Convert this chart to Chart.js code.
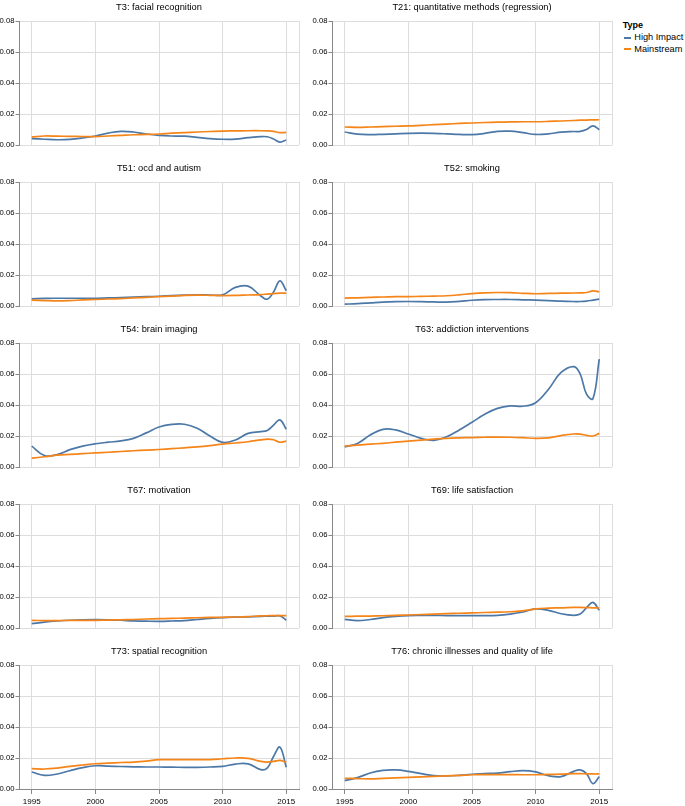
<!DOCTYPE html>
<html>
<head>
<meta charset="utf-8">
<script src="https://cdn.jsdelivr.net/npm/chart.js@4/dist/chart.umd.min.js"></script>
<style>
  html, body { margin: 0; padding: 0; background: #fff; }
  body { width: 685px; height: 806px; position: relative; overflow: hidden; font-family: 'Liberation Sans', Arial, sans-serif; }
  canvas { position: absolute; }
  .lg { position: absolute; font-size: 9.2px; line-height: 11px; color: #000; white-space: nowrap; }
  .sym { position: absolute; width: 7px; height: 2px; }
</style>
</head>
<body>
<div class="lg" style="left:622.7px;top:20.2px;font-weight:bold;font-size:9px;">Type</div>
<div class="sym" style="left:624px;top:37px;background:#4c78a8;"></div>
<div class="lg" style="left:634.3px;top:32.2px;">High Impact</div>
<div class="sym" style="left:624px;top:48px;background:#f58518;"></div>
<div class="lg" style="left:634.3px;top:43.5px;">Mainstream</div>
<script>
// ---- data ----
const years = [1995,1996,1997,1998,1999,2000,2001,2002,2003,2004,2005,2006,2007,2008,2009,2010,2011,2012,2013,2013.5,2014,2014.5,2015];
const xTicks = [1995,2000,2005,2010,2015];
const yTicks = [0,0.02,0.04,0.06,0.08];
const seriesNames = ['High Impact','Mainstream'];
const panelTitles = ['T3: facial recognition','T21: quantitative methods (regression)','T51: ocd and autism','T52: smoking','T54: brain imaging','T63: addiction interventions','T67: motivation','T69: life satisfaction','T73: spatial recognition','T76: chronic illnesses and quality of life'];

const t3High  = [.0041,.0037,.0034,.0036,.0045,.0058,.0077,.0088,.0084,.0071,.0062,.0058,.0057,.0049,.0041,.0037,.0038,.0047,.0054,.0053,.0039,.0019,.0032];
const t3Main  = [.0052,.0058,.0057,.0056,.0055,.0054,.0058,.0062,.0066,.0068,.0071,.0076,.0080,.0084,.0087,.0090,.0091,.0092,.0092,.0091,.0088,.0080,.0081];
const t21High = [.0084,.0070,.0067,.0069,.0072,.0075,.0076,.0075,.0072,.0068,.0067,.0075,.0088,.0089,.0080,.0068,.0072,.0083,.0087,.0088,.0100,.0124,.0099];
const t21Main = [.0116,.0114,.0116,.0119,.0121,.0123,.0127,.0131,.0135,.0139,.0142,.0145,.0147,.0149,.0150,.0150,.0152,.0155,.0158,.0160,.0161,.0162,.0163];
const t51High = [.0046,.0049,.0050,.0050,.0050,.0050,.0052,.0054,.0057,.0060,.0063,.0067,.0070,.0072,.0071,.0072,.0120,.0128,.0065,.0044,.0090,.0162,.0098];
const t51Main = [.0038,.0035,.0033,.0035,.0039,.0042,.0045,.0048,.0052,.0056,.0060,.0064,.0068,.0070,.0069,.0067,.0068,.0071,.0074,.0077,.0080,.0083,.0083];
const t52High = [.0012,.0015,.0020,.0025,.0028,.0029,.0028,.0026,.0025,.0030,.0037,.0041,.0042,.0042,.0040,.0038,.0035,.0031,.0029,.0029,.0032,.0038,.0044];
const t52Main = [.0051,.0053,.0056,.0058,.0060,.0061,.0062,.0064,.0066,.0072,.0080,.0085,.0087,.0086,.0082,.0079,.0081,.0083,.0084,.0085,.0087,.0097,.0092];
const t54High = [.0135,.0074,.0080,.0112,.0135,.0150,.0160,.0168,.0185,.0220,.0258,.0275,.0276,.0250,.0200,.0159,.0174,.0217,.0228,.0235,.0270,.0304,.0243];
const t54Main = [.0057,.0066,.0076,.0081,.0086,.0091,.0095,.0100,.0105,.0109,.0113,.0118,.0124,.0130,.0138,.0148,.0155,.0163,.0175,.0180,.0176,.0160,.0167];
const t63High = [.0130,.0152,.0206,.0243,.0239,.0213,.0185,.0172,.0195,.0239,.0289,.0340,.0378,.0394,.0392,.0415,.0500,.0610,.0648,.0600,.0470,.0440,.0696];
const t63Main = [.0135,.0141,.0147,.0153,.0160,.0167,.0174,.0180,.0185,.0188,.0190,.0192,.0193,.0192,.0189,.0185,.0188,.0203,.0213,.0212,.0204,.0200,.0217];
const t67High = [.0028,.0038,.0045,.0050,.0053,.0054,.0053,.0050,.0046,.0044,.0043,.0045,.0048,.0055,.0062,.0067,.0070,.0072,.0075,.0076,.0077,.0078,.0050];
const t67Main = [.0049,.0048,.0048,.0049,.0049,.0049,.0051,.0053,.0055,.0058,.0060,.0062,.0064,.0066,.0068,.0069,.0071,.0074,.0078,.0079,.0080,.0080,.0080];
const t69High = [.0056,.0047,.0055,.0067,.0075,.0080,.0081,.0081,.0080,.0080,.0080,.0080,.0082,.0090,.0103,.0123,.0114,.0092,.0082,.0090,.0131,.0165,.0114];
const t69Main = [.0075,.0076,.0077,.0079,.0081,.0084,.0087,.0090,.0093,.0095,.0097,.0100,.0102,.0105,.0110,.0123,.0128,.0130,.0133,.0133,.0132,.0130,.0129];
const t73High = [.0110,.0088,.0097,.0118,.0138,.0150,.0148,.0145,.0143,.0142,.0142,.0141,.0140,.0140,.0142,.0146,.0161,.0162,.0125,.0135,.0210,.0270,.0140];
const t73Main = [.0131,.0129,.0135,.0146,.0155,.0163,.0167,.0171,.0174,.0180,.0189,.0190,.0190,.0189,.0190,.0195,.0200,.0198,.0178,.0174,.0178,.0185,.0172];
const t76High = [.0054,.0073,.0103,.0120,.0123,.0114,.0099,.0086,.0084,.0088,.0095,.0099,.0103,.0112,.0118,.0110,.0086,.0080,.0114,.0123,.0099,.0035,.0080];
const t76Main = [.0069,.0067,.0065,.0068,.0072,.0075,.0078,.0081,.0085,.0088,.0092,.0093,.0093,.0093,.0092,.0092,.0094,.0096,.0099,.0099,.0098,.0097,.0097];

const highImpact = [t3High,t21High,t51High,t52High,t54High,t63High,t67High,t69High,t73High,t76High];
const mainstream = [t3Main,t21Main,t51Main,t52Main,t54Main,t63Main,t67Main,t69Main,t73Main,t76Main];
const colors = ['#4c78a8','#f58518'];

// ---- drawing ----
Chart.defaults.font.family = "'Liberation Sans', Arial, sans-serif";
Chart.defaults.color = '#000';

const frame = {
  id: 'frame',
  beforeDatasetsDraw(chart) {
    const { ctx, chartArea: a } = chart;
    ctx.save();
    ctx.strokeStyle = '#ddd';
    ctx.lineWidth = 1;
    ctx.beginPath();
    ctx.moveTo(Math.round(a.right) + 0.5, a.top);
    ctx.lineTo(Math.round(a.right) + 0.5, a.bottom);
    ctx.stroke();
    ctx.restore();
  }
};

const PLOT_W = 280, PLOT_H = 124, Y_W = 30, TITLE_H = 21;
const plotLefts = [19, 332];
const plotTops = [21, 182, 343, 504, 665];

panelTitles.forEach((title, i) => {
  const r = Math.floor(i / 2), c = i % 2;
  const isBottom = r === 4;
  const extraBottom = isBottom ? 18 : 6;
  const cw = Y_W + PLOT_W + 30;
  const ch = TITLE_H + PLOT_H + extraBottom;
  const cv = document.createElement('canvas');
  cv.width = cw; cv.height = ch;
  cv.style.left = (plotLefts[c] - Y_W) + 'px';
  cv.style.top = (plotTops[r] - TITLE_H) + 'px';
  cv.style.width = cw + 'px';
  cv.style.height = ch + 'px';
  document.body.appendChild(cv);

  const mk = (vals) => years.map((y, k) => ({ x: y, y: vals[k] }));
  const titleSize = 9.3;
  const titleTop = 1.5;

  new Chart(cv, {
    type: 'line',
    data: {
      datasets: [
        { label: seriesNames[0], data: mk(highImpact[i]), borderColor: colors[0], backgroundColor: colors[0], borderWidth: 1.7, pointRadius: 0, tension: 0.4, order: 2 },
        { label: seriesNames[1], data: mk(mainstream[i]), borderColor: colors[1], backgroundColor: colors[1], borderWidth: 1.7, pointRadius: 0, tension: 0.4, order: 1 }
      ]
    },
    options: {
      responsive: false,
      animation: false,
      events: [],
      layout: { padding: { left: 0, right: 30, top: 0, bottom: isBottom ? 0 : 6 } },
      plugins: {
        legend: { display: false },
        tooltip: { enabled: false },
        title: {
          display: true, text: title, fullSize: false, align: 'center',
          color: '#000',
          font: { size: titleSize, weight: 'normal', lineHeight: 1.2 },
          padding: { top: titleTop, bottom: TITLE_H - titleTop - titleSize * 1.2 }
        }
      },
      scales: {
        x: {
          type: 'linear', min: 1994, max: 2016,
          afterBuildTicks: (s) => { s.ticks = xTicks.map(v => ({ value: v })); },
          afterFit: (s) => { s.height = isBottom ? 18 : 0; },
          ticks: { display: isBottom, font: { size: 8 }, padding: 2.5, maxRotation: 0, autoSkip: false, callback: (v) => String(v) },
          grid: { color: '#ddd', lineWidth: 1, drawTicks: isBottom, tickLength: 5, tickColor: '#888' },
          border: { display: isBottom, color: '#888', width: 1 }
        },
        y: {
          min: 0, max: 0.08,
          afterBuildTicks: (s) => { s.ticks = yTicks.map(v => ({ value: v })); },
          afterFit: (s) => { s.width = Y_W; },
          ticks: { font: { size: 7.7 }, padding: 1, callback: (v) => Number(v).toFixed(2) },
          grid: { color: '#ddd', lineWidth: 1, drawTicks: true, tickLength: 3.5, tickColor: '#888' },
          border: { display: true, color: '#888', width: 1 }
        }
      }
    },
    plugins: [frame]
  });
});
</script>
</body>
</html>
